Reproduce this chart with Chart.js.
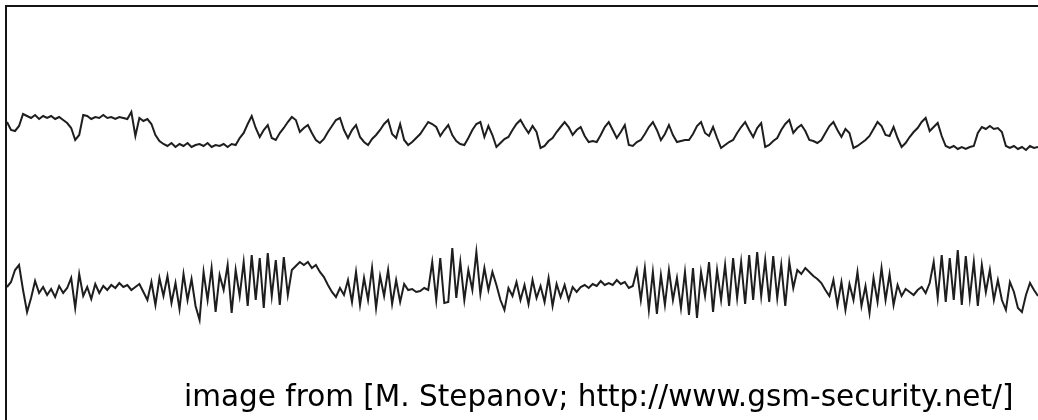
<!DOCTYPE html>
<html>
<head>
<meta charset="utf-8">
<script src="https://cdn.jsdelivr.net/npm/chart.js@4/dist/chart.umd.min.js"></script>
<style>
  html, body { margin: 0; padding: 0; background: #fff; }
  #wrap { position: relative; width: 1038px; height: 420px; }
</style>
</head>
<body>
<div id="wrap"><canvas id="traceChart"></canvas></div>
<script>
// upper trace, signal level per sample (arbitrary units)
const upperTrace = [
  8, 0, -1, 4, 16, 14, 12, 15, 11, 14,
  12, 14, 11, 13, 10, 7, 2, -10, -5, 15,
  14, 11, 13, 12, 15, 12, 13, 11, 13, 12,
  11, 18, -6, 12, 9, 11, 6, -5, -11, -14,
  -16, -13, -17, -14, -16, -13, -17, -15, -14, -16,
  -13, -17, -15, -16, -14, -17, -14, -15, -8, -3,
  6, 14, 2, -7, 0, 5, -8, -10, -3, 2,
  8, 13, 10, -2, 2, 5, -3, -10, -13, -9,
  -2, 4, 10, 12, 0, -8, 0, 5, -7, -12,
  -15, -9, -5, 0, 6, 10, -4, -8, 6, -10,
  -15, -12, -8, -4, 2, 8, 6, 3, -6, 0,
  5, -5, -11, -14, -15, -8, 0, 6, 8, -7,
  4, -5, -17, -13, -9, -7, 0, 6, 10, 3,
  -3, 4, -2, -18, -16, -11, -8, -2, 3, 8,
  3, -5, 0, 3, -6, -12, -11, -12, -5, 3,
  8, 0, -8, -2, 5, -15, -16, -12, -10, -4,
  3, 8, 0, -10, -4, 5, -5, -12, -11, -10,
  -10, -4, 4, 8, -3, -6, 3, -8, -18, -15,
  -12, -10, -3, 3, 8, 0, -7, 2, 7, -17,
  -15, -11, -8, 0, 6, 10, -3, 2, 5, -1,
  -10, -11, -13, -10, -3, 4, 8, 0, -7, 1,
  -3, -18, -16, -13, -10, -6, 1, 8, 4, -5,
  -6, 3, -8, -17, -13, -7, -2, 2, 8, 12,
  -1, 3, 7, -6, -16, -18, -16, -19, -17, -19,
  -17, -16, -3, 3, 1, 4, 1, 2, -2, -16,
  -18, -16, -19, -17, -20, -16, -18, -17
];

// lower trace, signal level per sample (arbitrary units)
const lowerTrace = [
  3, 8, 20, 25, 0, -22, -8, 9, -3, 3,
  -5, 1, -7, 4, -3, 2, 12, -18, 16, -6,
  3, -9, 6, -3, 4, 0, 5, 2, 7, 3,
  5, 0, 3, 6, -2, -10, 8, -15, 12, -6,
  14, -13, 7, -19, 16, -10, 11, -16, -30, 18,
  -10, 22, -22, 15, 0, 25, -23, 20, -6, 28,
  -16, 35, -10, 32, -18, 37, -6, 30, -15, 33,
  -5, 20, 24, 28, 25, 28, 22, 25, 18, 13,
  5, -2, -7, 2, -5, 10, -12, 18, -15, 12,
  -10, 22, -18, 14, -6, 20, -14, 10, -12, 6,
  0, 1, -2, -1, 2, 0, 28, -10, 32, -13,
  -12, 42, -8, 28, -10, 20, 0, 38, -4, 22,
  0, 18, 5, -10, -20, 2, -6, 8, -10, 5,
  -14, 10, -8, 4, -12, 12, -16, 6, -7, 5,
  -10, 3, -2, 3, 5, 2, 6, 4, 9, 5,
  7, 5, 10, 6, 8, 2, 4, 20, -10, 22,
  -20, 18, -24, 15, -15, 20, -10, 12, -18, 18,
  -25, 22, -28, 18, -6, 28, -22, 20, -10, 25,
  -16, 32, -8, 28, -14, 35, -10, 38, -6, 30,
  -12, 34, -8, 25, -16, 28, 2, 20, 16, 22,
  18, 14, 11, 7, 0, -6, 10, -15, 8, -20,
  6, -10, 18, -16, 4, -23, 12, -12, 22, -10,
  16, -15, 5, -6, 1, -2, -5, 0, 3, -3,
  7, 28, -8, 35, -12, 32, -10, 40, -15, 34,
  -8, 28, -16, 25, -2, 20, -10, 10, -10, -20,
  8, -2, -18, -22, -5, 7, 0, -6
];

const sampleIndex = upperTrace.map((_, i) => i);

const captionText = 'image from [M. Stepanov; http://www.gsm-security.net/]';

// frame lines on the top and left edge, caption at the bottom
const framePlugin = {
  id: 'frame',
  beforeDraw(chart) {
    const ctx = chart.ctx;
    ctx.save();
    ctx.fillStyle = '#ffffff';
    ctx.fillRect(0, 0, chart.width, chart.height);
    ctx.fillStyle = '#151515';
    ctx.fillRect(5, 5, chart.width - 5, 2);
    ctx.fillRect(5, 5, 2, chart.height - 5);
    ctx.restore();
  },
  afterDraw(chart) {
    const ctx = chart.ctx;
    ctx.save();
    ctx.fillStyle = '#000000';
    ctx.font = '29.5px "DejaVu Sans"';
    ctx.textBaseline = 'alphabetic';
    ctx.textAlign = 'left';
    ctx.fillText(captionText, 184, 406, 831);
    ctx.restore();
  },
};

const traceChart = new Chart(document.getElementById('traceChart'), {
  type: 'line',
  data: {
    labels: sampleIndex,
    datasets: [
      {
        label: 'upper',
        data: upperTrace,
        borderColor: '#1e1e1e',
        borderWidth: 2,
        pointRadius: 0,
        tension: 0,
        fill: false,
        yAxisID: 'yUpper',
      },
      {
        label: 'lower',
        data: lowerTrace,
        borderColor: '#1e1e1e',
        borderWidth: 2,
        pointRadius: 0,
        tension: 0,
        fill: false,
        yAxisID: 'yLower',
      },
    ],
  },
  options: {
    responsive: true,
    maintainAspectRatio: false,
    animation: false,
    layout: {
      autoPadding: false,
      padding: { left: 7, right: 0, top: 0, bottom: 0 },
    },
    plugins: {
      legend: { display: false },
      tooltip: { enabled: false },
    },
    scales: {
      x: {
        type: 'category',
        display: false,
        offset: false,
      },
      yUpper: {
        type: 'linear',
        display: false,
        min: -290,
        max: 130,
      },
      yLower: {
        type: 'linear',
        display: false,
        min: -130,
        max: 290,
      },
    },
  },
  plugins: [framePlugin],
});
</script>
</body>
</html>
